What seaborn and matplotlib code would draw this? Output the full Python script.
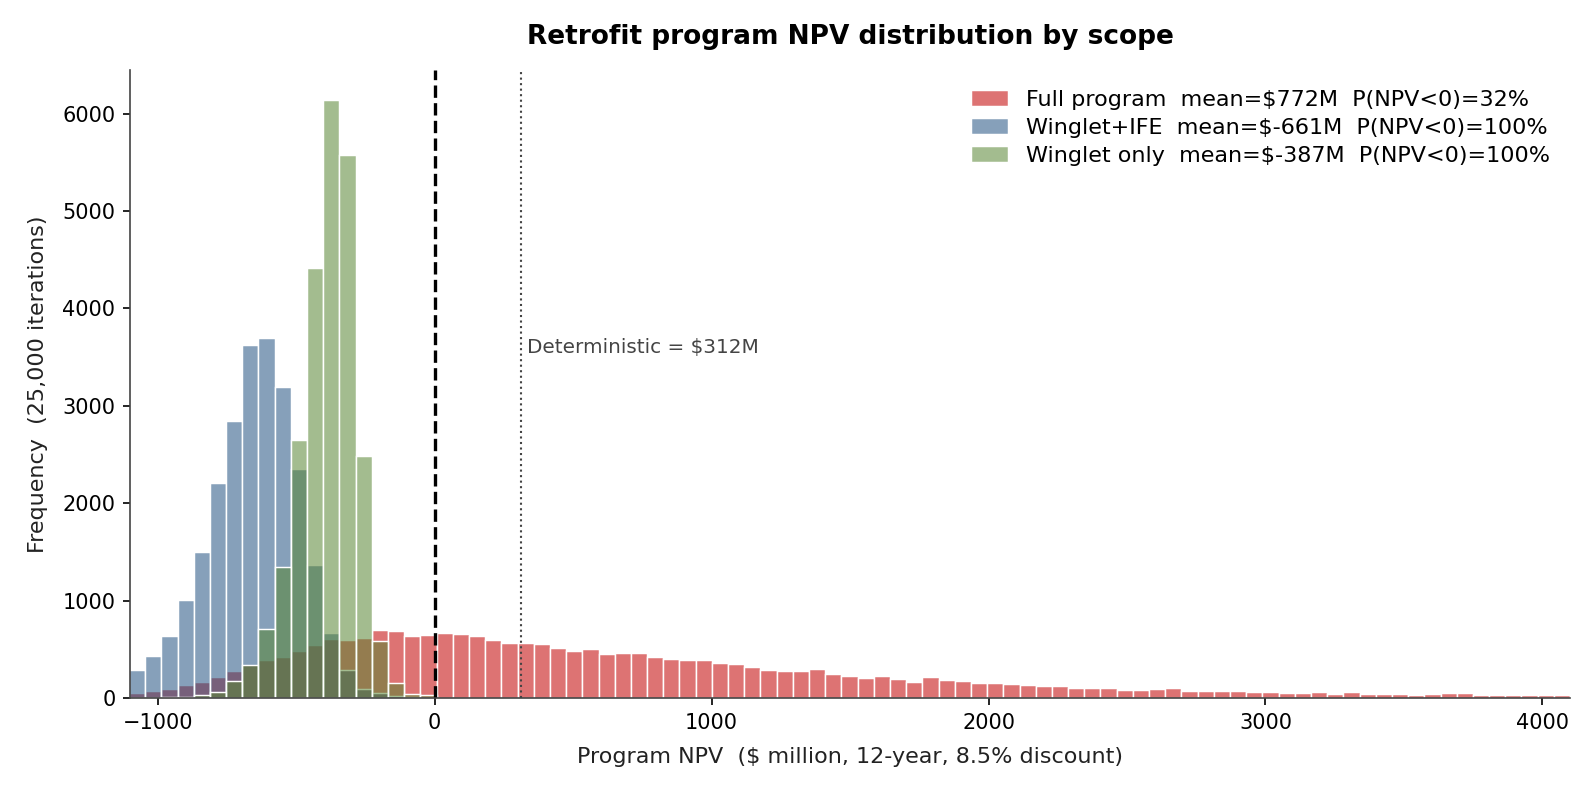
import numpy as np
import pandas as pd
import matplotlib
matplotlib.use("Agg")
import matplotlib.pyplot as plt
import seaborn as sns

# Histogram counts per bin
full_counts = [52, 73, 94, 132, 164, 220, 282, 350, 390, 418, 480, 544, 606, 593, 618, 700, 688, 636, 646,
               663, 653, 632, 591, 560, 560, 550, 515, 478, 498, 447, 457, 457, 416, 405, 385, 385, 357, 344, 320, 292, 282, 274,
               299, 247, 227, 205, 227, 194, 163, 216, 186, 174, 153, 153, 143, 133, 124, 124, 102, 102, 102, 80, 80, 91, 102, 71,
               71, 71, 71, 60, 60, 50, 48, 60, 38, 59, 38, 38, 38, 28, 38, 50, 50, 28, 28, 28, 28, 28, 28, 18]
ife_counts = [285, 431, 639, 1011, 1500, 2207, 2844, 3623, 3694, 3192, 2354, 1369, 670, 286, 94, 49, 24, 10, 0]
winglet_counts = [0, 0, 10, 14, 35, 59, 179, 341, 712, 1348, 2647, 4413, 6140, 5574, 2480, 580, 150, 45, 28]

labels = ["Full program  mean=$772M  P(NPV<0)=32%",
          "Winglet+IFE  mean=$-661M  P(NPV<0)=100%",
          "Winglet only  mean=$-387M  P(NPV<0)=100%"]
colors = ["#c20000", "#235282", "#588533"]
deterministic = 312

# bin layout
bin_start = -1104
bin_width = 58.47
edges = bin_start + bin_width * np.arange(len(full_counts) + 1)
centers = edges[:-1] + bin_width / 2

sns.set_style("ticks")
plt.rcParams.update({"text.color": "black", "xtick.color": "black", "ytick.color": "black",
                     "xtick.labelcolor": "black", "ytick.labelcolor": "black"})
fig, ax = plt.subplots(figsize=(1594 / 150, 792 / 150), dpi=150)
fig.subplots_adjust(left=0.0816, right=0.985, bottom=0.1187, top=0.9116)

# drawn in order: full program, then winglet+IFE, then winglet only on top
for counts, label, color in zip([full_counts, ife_counts, winglet_counts], labels, colors):
    n = len(counts)
    df = pd.DataFrame({"npv": centers[:n], "count": counts})
    sns.histplot(data=df, x="npv", weights="count", bins=edges[:n + 1].tolist(), color=color, alpha=0.55,
                 edgecolor="white", linewidth=0.7, label=label, ax=ax)

ax.axvline(0, color="black", ls="--", lw=1.6)
ax.axvline(deterministic, color="#444444", ls=":", lw=1.0)
ax.text(deterministic + 22, 3600, f"Deterministic = ${deterministic}M", fontsize=9.6,
        color="#444444", va="center", ha="left")

ax.set_xlim(-1100, 4100)
ax.set_xticks([-1000, 0, 1000, 2000, 3000, 4000])
ax.tick_params(labelsize=10)
ax.set_xlabel("Program NPV  ($ million, 12-year, 8.5% discount)", fontsize=10.7, color="#222222", labelpad=7)
ax.set_ylabel("Frequency  (25,000 iterations)", fontsize=10.7, color="#222222", labelpad=7)
ax.set_title("Retrofit program NPV distribution by scope", fontsize=12.7, fontweight="bold",
             color="black", pad=12.5)
for s in ["left", "bottom"]:
    ax.spines[s].set_color("#444444")
sns.despine(ax=ax)
ax.legend(loc="upper right", frameon=False, fontsize=10.7, labelspacing=0.35, handlelength=1.65)

plt.savefig("out.png", dpi=150)
plt.close()
